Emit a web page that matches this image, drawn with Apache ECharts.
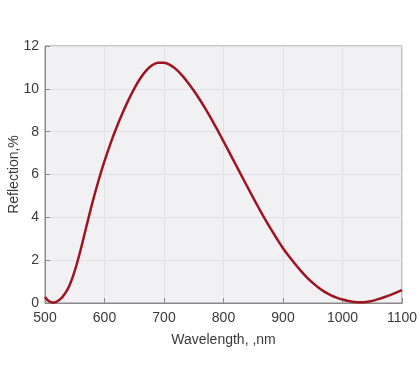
<!DOCTYPE html>
<html><head><meta charset="utf-8">
<script src="https://cdn.jsdelivr.net/npm/echarts@6/dist/echarts.min.js"></script>
<style>html,body{margin:0;padding:0;background:#fff}#c{width:420px;height:389px}</style>
</head><body><div id="c"></div>
<script>
const wavelengths = [500,505,510,515,520,525,530,540,550,560,570,580,590,600,610,620,630,640,650,660,670,680,690,700,710,720,730,740,750,760,770,780,790,800,810,820,830,840,850,860,870,880,890,900,910,920,930,940,950,960,970,980,990,1000,1010,1020,1030,1040,1050,1060,1070,1080,1090,1100];
const reflection = [0.28,0.12,0.04,0.02,0.07,0.16,0.3,0.75,1.5,2.5,3.62,4.72,5.72,6.62,7.44,8.18,8.85,9.46,10.01,10.48,10.85,11.1,11.22,11.22,11.12,10.92,10.64,10.3,9.92,9.5,9.05,8.57,8.07,7.55,7.02,6.49,5.96,5.43,4.91,4.4,3.91,3.44,2.99,2.56,2.18,1.83,1.5,1.2,0.94,0.71,0.52,0.37,0.25,0.16,0.09,0.05,0.03,0.05,0.1,0.18,0.27,0.37,0.48,0.6];
const xTicks = {min:500, max:1100, step:100};
const yTicks = {min:0, max:12, step:2};
const xName = 'Wavelength, ,nm';
const yName = 'Reflection,%';

const chart = echarts.init(document.getElementById('c'), null, {renderer:'canvas'});
const font = 'Liberation Sans, Arial, sans-serif';
chart.setOption({
  animation:false,
  grid:{left:45, right:18, top:46, bottom:86, containLabel:false, outerBoundsMode:'none',
    show:true, backgroundColor:'#f1f1f3', borderColor:'#8a8a8a', borderWidth:1},
  xAxis:{type:'value', min:xTicks.min, max:xTicks.max, interval:xTicks.step,
    name:xName, nameLocation:'middle', nameGap:30, nameMoveOverlap:false,
    nameTextStyle:{fontFamily:font, fontSize:14, color:'#3a3a3a'},
    axisLine:{show:true, lineStyle:{color:'#8a8a8a'}},
    axisTick:{show:true, inside:true, length:5, lineStyle:{color:'#8a8a8a'}},
    axisLabel:{fontFamily:font, fontSize:14, color:'#3a3a3a', margin:8, formatter:v=>String(v)},
    splitLine:{show:true, lineStyle:{color:'#e2e2e6'}}},
  yAxis:{type:'value', min:yTicks.min, max:yTicks.max, interval:yTicks.step,
    name:yName, nameLocation:'middle', nameGap:24, nameMoveOverlap:false,
    nameTextStyle:{fontFamily:font, fontSize:14, color:'#3a3a3a'},
    axisLine:{show:true, lineStyle:{color:'#8a8a8a'}},
    axisTick:{show:true, inside:true, length:5, lineStyle:{color:'#8a8a8a'}},
    axisLabel:{fontFamily:font, fontSize:14, color:'#3a3a3a', margin:6, formatter:v=>String(v)},
    splitLine:{show:true, lineStyle:{color:'#e2e2e6'}}},
  series:[{type:'line', data:wavelengths.map((w,i)=>[w,reflection[i]]), smooth:0.3, showSymbol:false,
    lineStyle:{color:'#9e1420', width:2.5}}]
});
</script></body></html>
